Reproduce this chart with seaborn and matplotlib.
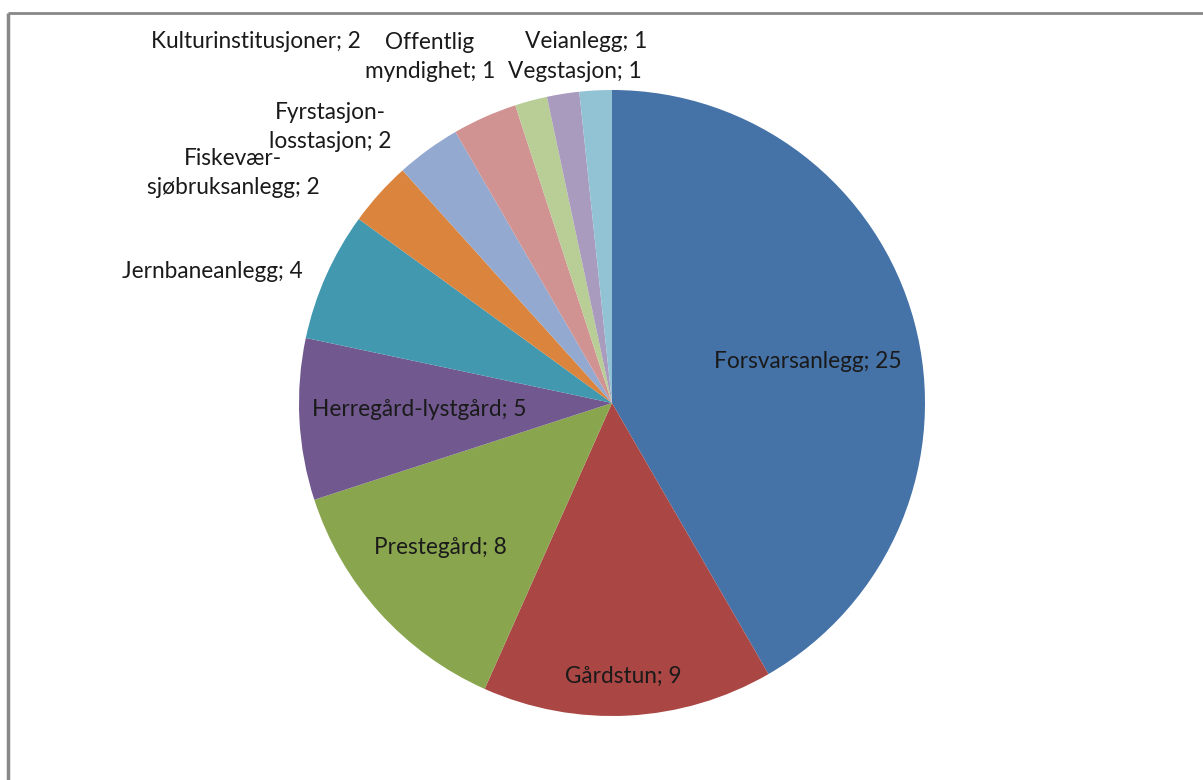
import matplotlib
matplotlib.use("Agg")
import matplotlib.pyplot as plt
import seaborn as sns
import numpy as np

categories = ["Forsvarsanlegg", "Gårdstun", "Prestegård", "Herregård-lystgård",
              "Jernbaneanlegg", "Fiskevær-\nsjøbruksanlegg", "Fyrstasjon-\nlosstasjon",
              "Kulturinstitusjoner", "Offentlig\nmyndighet", "Vegstasjon", "Veianlegg"]
values = [25, 9, 8, 5, 4, 2, 2, 2, 1, 1, 1]
colors = ["#4572A7", "#AA4643", "#89A54E", "#71588F", "#4198AF", "#DB843D",
          "#93A9CF", "#D19392", "#B9CD96", "#A99BBD", "#92C3D5"]

# label anchor positions (pixels from top-left), layout only
label_pos = [(808, 362), (623, 676), (440, 548), (419, 410), (212, 272),
             (233, 173), (330, 127), (256, 42), (430, 57), (575, 72), (586, 42)]

sns.set_theme(style="white")
plt.rcParams['font.family'] = ['Lato', 'DejaVu Sans']

W, H = 1203, 780
fig = plt.figure(figsize=(W / 100, H / 100), dpi=100)
ax = fig.add_axes([0, 0, 1, 1])

cx, cy, r = 612, 403, 313
ax.pie(values, colors=colors, startangle=90, counterclock=False,
       center=(cx, H - cy), radius=r, frame=True,
       wedgeprops=dict(linewidth=0))
ax.set_xlim(0, W)
ax.set_ylim(0, H)
ax.set_aspect('equal')
ax.axis('off')

for name, v, (x, y) in zip(categories, values, label_pos):
    ax.text(x, H - y, f"{name}; {v}", ha='center', va='center', fontsize=16.3,
            color='#1a1a1a', linespacing=1.42)

# frame lines
ax.plot([8, 8], [H - 13, 0], color='#888888', lw=2.5, solid_capstyle='butt')
ax.plot([8, W], [H - 13, H - 13], color='#888888', lw=2, solid_capstyle='butt')

fig.savefig("out.png", dpi=100)
